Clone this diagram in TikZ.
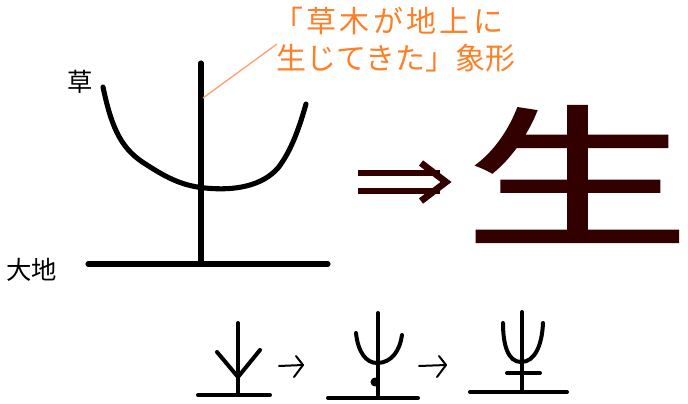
\documentclass[tikz,border=0pt]{standalone}
\usepackage{fontspec}
\newfontfamily\cjk{Noto Sans CJK JP}
\newfontfamily\cjkheavy[FakeBold=1.5]{Noto Sans CJK JP}
\definecolor{leaf}{HTML}{FF7F27}
\definecolor{leafline}{HTML}{FFA070}
\definecolor{kanji}{HTML}{330000}
\begin{document}
\begin{tikzpicture}[x=0.75pt,y=-0.75pt,
  ink/.style={line width=3.8pt,line cap=round,line join=round},
  sketch/.style={line width=3pt,line cap=round,line join=round},
  thinarrow/.style={line width=1.5pt,line cap=round,line join=round},
  label/.style={font=\cjk\fontsize{19}{21}\selectfont,inner sep=0pt},
  note/.style={font=\cjk\fontsize{22.5}{28.5}\selectfont,text=leaf,inner sep=0pt,anchor=west}]
\useasboundingbox (0,0) rectangle (688,403);

% pictograph: grass rising from the ground
\coordinate (stemtop) at (201,63);
\coordinate (stembot) at (201,264);
\coordinate (groundL) at (88,264);
\coordinate (groundR) at (328,264);
\draw[ink] (stemtop) -- (stembot);
\draw[ink] (groundL) -- (groundR);
\draw[ink] (103,87) .. controls (112,130) and (122,150) .. (147,165)
  .. controls (170,180) and (185,186) .. (205,188)
  .. controls (235,191) and (262,186) .. (278,168)
  .. controls (292,150) and (300,125) .. (306,104);

\node[label] (grass) at (80,82) {草};
\node[label] (earth) at (32,270) {大地};

% annotation, two lines
\node[note] (noteA) at (273,21) {「\kern2.5pt草\kern2.5pt木\kern2.5ptが\kern2.5pt地\kern2.5pt上\kern2.5ptに};
\node[note] (noteB) at (276,58) {生じてきた」象形};
\coordinate (pin) at (203,98);
\coordinate (tag) at (277,44);
\draw[leafline,line width=1pt] (pin) -- (tag);

% double arrow
\draw[kanji,line width=4.5pt] (358,173) -- (440,173);
\draw[kanji,line width=4.5pt] (358,191) -- (440,191);
\draw[kanji,line width=5pt,line join=miter] (421,163) -- (446,182) -- (421,201);

% modern character
\node[font=\cjkheavy\fontsize{115}{120}\selectfont,text=kanji,inner sep=0pt,xscale=1.46] (sei) at (577,174) {生};

% evolution of the glyph
\draw[sketch] (198,395) -- (270,395);
\draw[sketch] (238,323) -- (238,395);
\draw[sketch] (217,352) -- (238,377) -- (260,350);

\draw[thinarrow] (279,366) -- (303,365);
\draw[thinarrow] (296,356) -- (303,365) -- (294,377);

\draw[sketch] (328,398) -- (418,398);
\draw[sketch] (378,313) -- (378,398);
\draw[sketch] (356,333) .. controls (358,352) and (366,363) .. (377,363)
  .. controls (392,363) and (400,350) .. (402,335);
\fill (375,382) circle (4.5);

\draw[thinarrow] (419,366) -- (446,365);
\draw[thinarrow] (439,356) -- (446,365) -- (437,377);

\draw[sketch] (470,392) -- (567,392);
\draw[sketch] (522,312) -- (522,392);
\draw[sketch] (503,323) .. controls (503,345) and (508,362) .. (521,362)
  .. controls (535,362) and (542,345) .. (543,323);
\draw[sketch] (507,373) -- (540,373);
\end{tikzpicture}
\end{document}
